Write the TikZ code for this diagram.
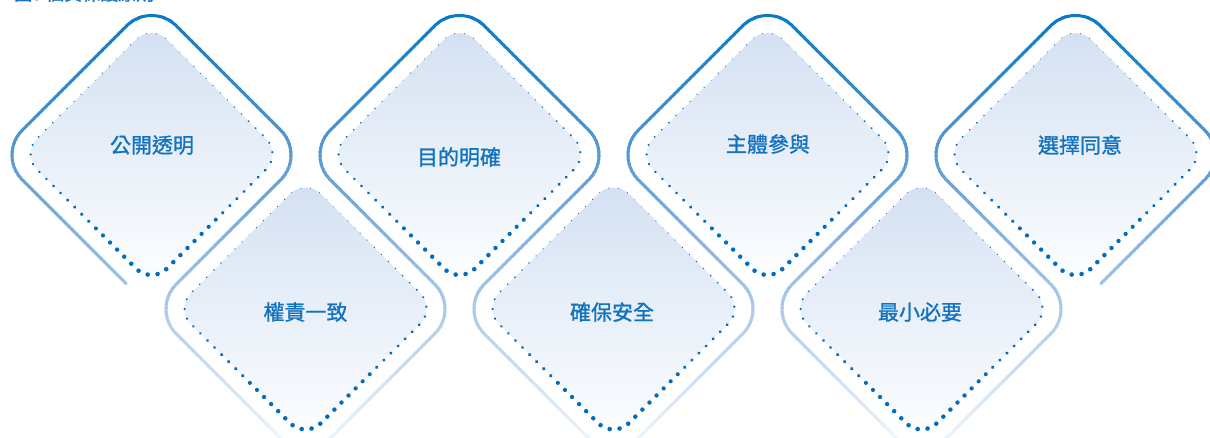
\documentclass[tikz,border=0pt]{standalone}
\usepackage{fontspec}
\newfontfamily\cjk[FakeBold=1.1]{Noto Sans CJK TC}
\usetikzlibrary{decorations.markings}
\definecolor{txtblue}{RGB}{16,114,192}
\definecolor{dotblue}{RGB}{0,108,190}
\definecolor{fillTop}{RGB}{211,224,242}
\definecolor{fillBot}{RGB}{253,254,255}

\newcommand\dotmark{%
  \pgfmathsetmacro\ff{\pgfkeysvalueof{/pgf/decoration/mark info/distance from start}/\pgfdecoratedpathlength}%
  \pgfmathsetmacro\ww{(1-cos(360*(\ff-0.1)))/2+0.001}%
  \pgfmathsetmacro\rr{0.55+1.75*\ww^1.3}%
  \fill[dotblue] (0,0) circle[radius=\rr pt];%
}

\newcommand\FramePath{(S) -- (L1) -- (T1) -- (R1) -- (V1) -- (B1) -- (W1) -- (L2) -- (T2) -- (R2) -- (V2) -- (B2) -- (W2) -- (L3) -- (T3) -- (R3) -- (V3) -- (B3) -- (W3) -- (L4) -- (T4) -- (R4) -- (E)}

\newcommand\InnerDia[2]{%
  \path[innerfill, rounded corners=22pt] (#1+65,#2-65) -- (#1,#2-130) -- (#1-130,#2) -- (#1,#2+130) -- (#1+130,#2) -- cycle;
  \path[dotborder, rounded corners=22pt] (#1+65,#2-65) -- (#1,#2-130) -- (#1-130,#2) -- (#1,#2+130) -- (#1+130,#2) -- cycle;
}

\tikzset{
  lbl/.style={font=\cjk\fontsize{21}{22}\selectfont, text=txtblue, inner sep=0pt},
  titlestyle/.style={font=\cjk\fontsize{18}{20}\selectfont, text=txtblue, inner sep=0pt},
  innerfill/.style={top color=fillTop, bottom color=fillBot, draw=none},
  dotborder/.style={decorate, decoration={markings, mark=between positions 0 and 0.995 step 10pt with {\dotmark}}},
  framestyle/.style={line width=3pt, line cap=round, line join=round, rounded corners=35pt}
}

\begin{document}
\begin{tikzpicture}[x=1pt, y=-1pt]
\useasboundingbox (0,0) rectangle (1210,437);

% frame vertices
\coordinate (S)  at (126,283.5);
\coordinate (L1) at (-2.5,155);
\coordinate (T1) at (151.5,1);
\coordinate (R1) at (305.5,155);
\coordinate (V1) at (151.5,309);
\coordinate (B1) at (305.5,463);
\coordinate (W1) at (459.5,309);
\coordinate (L2) at (305.5,155);
\coordinate (T2) at (459.5,1);
\coordinate (R2) at (613.5,155);
\coordinate (V2) at (459.5,309);
\coordinate (B2) at (613.5,463);
\coordinate (W2) at (767.5,309);
\coordinate (L3) at (613.5,155);
\coordinate (T3) at (767.5,1);
\coordinate (R3) at (921.5,155);
\coordinate (V3) at (767.5,309);
\coordinate (B3) at (921.5,463);
\coordinate (W3) at (1075.5,309);
\coordinate (L4) at (921.5,155);
\coordinate (T4) at (1075.5,1);
\coordinate (R4) at (1229.5,155);
\coordinate (E)  at (1101,283.5);

% inner diamonds
\InnerDia{151.5}{154}
\InnerDia{459.5}{154}
\InnerDia{767.5}{154}
\InnerDia{1075.5}{154}
\InnerDia{305.5}{308.5}
\InnerDia{613.5}{308.5}
\InnerDia{921.5}{308.5}

% gradient frame, drawn in horizontal bands
\foreach \yy in {0,4,...,436} {
  \pgfmathsetmacro\yc{\yy+2}
  \pgfmathsetmacro\tA{min(1,max(0,\yc/160))}
  \pgfmathsetmacro\tB{min(1,max(0,(\yc-160)/150))}
  \pgfmathsetmacro\tC{min(1,max(0,(\yc-310)/127))}
  \pgfmathtruncatemacro\RR{0+92*\tA+80*\tB+62*\tC}
  \pgfmathtruncatemacro\GG{120+35*\tA+47*\tB+42*\tC}
  \pgfmathtruncatemacro\BB{192+20*\tA+22*\tB+17*\tC}
  \definecolor{bandc}{RGB}{\RR,\GG,\BB}
  \begin{scope}
    \clip (-10,\yy-0.3) rectangle (1230,\yy+4.3);
    \draw[framestyle, draw=bandc] \FramePath;
  \end{scope}
}

% labels
\node[lbl] (p1) at (152,145) {公開透明};
\node[lbl] (p2) at (459,157) {目的明確};
\node[lbl] (p3) at (768,144) {主體參與};
\node[lbl] (p4) at (1080,145) {選擇同意};
\node[lbl] (p5) at (305.5,312) {權責一致};
\node[lbl] (p6) at (612,312) {確保安全};
\node[lbl] (p7) at (920,312) {最小必要};

% title, cut off at the top edge as in the reference
\node[titlestyle, anchor=south west] (title) at (14,2) {圖7 個資保護原則};
\end{tikzpicture}
\end{document}
